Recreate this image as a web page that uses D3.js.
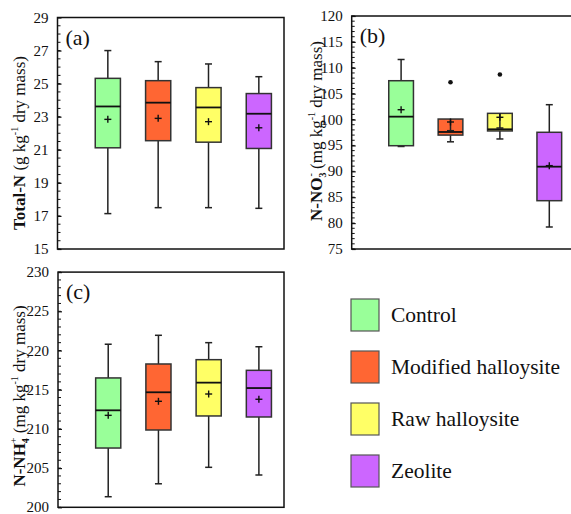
<!DOCTYPE html>
<html><head><meta charset="utf-8">
<script src="https://cdn.jsdelivr.net/npm/d3@7"></script>
<style>
html,body{margin:0;padding:0;background:#fff;}
svg{display:block;}
text{font-family:"Times New Roman","Liberation Serif",serif;}
</style></head>
<body>
<svg id="chart" width="571" height="514"></svg>
<script>
// ---------- data ----------
const categories = ["Control", "Modified halloysite", "Raw halloysite", "Zeolite"];
const fillColors = ["#99ff99", "#ff6633", "#ffff66", "#cc66ff"];

// (a) Total-N (g kg-1 dry mass)
const totalN_low    = [17.14, 17.50, 17.50, 17.46];
const totalN_q1     = [21.12, 21.55, 21.46, 21.08];
const totalN_median = [23.62, 23.85, 23.56, 23.18];
const totalN_q3     = [25.32, 25.18, 24.76, 24.40];
const totalN_high   = [27.00, 26.33, 26.19, 25.42];
const totalN_mean   = [22.84, 22.90, 22.70, 22.33];
const totalN_ticks  = [15, 17, 19, 21, 23, 25, 27, 29];

// (b) N-NO3- (mg kg-1 dry mass)
const no3_low    = [94.8, 95.7, 96.25, 79.25];
const no3_q1     = [94.95, 97.0, 97.8, 84.33];
const no3_median = [100.56, 97.6, 98.12, 90.9];
const no3_q3     = [107.5, 100.1, 101.2, 97.54];
const no3_high   = [111.6, 97.85, 98.37, 102.87];
const no3_mean   = [101.9, 99.53, 100.44, 91.1];
const no3_outlierCat   = ["Modified halloysite", "Raw halloysite"];
const no3_outlierValue = [107.2, 108.7];
const no3_ticks  = [75, 80, 85, 90, 95, 100, 105, 110, 115, 120];

// (c) N-NH4+ (mg kg-1 dry mass)
const nh4_low    = [201.35, 203.0, 205.1, 204.12];
const nh4_q1     = [207.56, 209.86, 211.65, 211.52];
const nh4_median = [212.37, 214.67, 215.9, 215.21];
const nh4_q3     = [216.5, 218.28, 218.83, 217.47];
const nh4_high   = [220.8, 221.94, 221.0, 220.48];
const nh4_mean   = [211.73, 213.52, 214.45, 213.78];
const nh4_ticks  = [200, 205, 210, 215, 220, 225, 230];

// ---------- drawing ----------
const FONT = '"Times New Roman", "Liberation Serif", serif';
const svg = d3.select("#chart");

function drawPanel(p) {
  const g = svg.append("g");
  const x = d3.scaleLinear().domain([0, 4.5]).range([p.left, p.right]);
  const y = d3.scaleLinear().domain([p.ticks[0], p.ticks[p.ticks.length - 1]]).range([p.bottom, p.top]);
  const catPos = c => x(categories.indexOf(c) + 1);
  const bw = x(0.5) - x(0);
  const capW = 7;

  g.append("rect").attr("x", p.left).attr("y", p.top)
    .attr("width", p.right - p.left).attr("height", p.bottom - p.top)
    .attr("fill", "none").attr("stroke", "#111").attr("stroke-width", 1.5);

  const [d0, d1] = y.domain();
  const minor = d3.range(d0, d1 + 1e-9, p.minorStep);
  g.selectAll(".minor").data(minor).join("line")
    .attr("x1", p.left).attr("x2", p.left + 3)
    .attr("y1", d => y(d)).attr("y2", d => y(d))
    .attr("stroke", "#111").attr("stroke-width", 1);

  const axis = d3.axisLeft(y).tickValues(p.ticks).tickSizeInner(4).tickSizeOuter(0).tickPadding(5);
  const ag = g.append("g").attr("transform", `translate(${p.left},0)`).call(axis);
  ag.attr("font-family", FONT).attr("font-size", 15);
  ag.select(".domain").remove();
  ag.selectAll(".tick line").attr("x2", 4).attr("stroke", "#111").attr("stroke-width", 1.2);
  ag.selectAll(".tick text").attr("font-size", 15).attr("fill", "#111")
    .style("font-family", FONT).attr("dy", "0.3em");

  const idx = d3.range(categories.length);
  const lines = g.append("g").attr("stroke", "#222").attr("stroke-width", 1.5);
  idx.forEach(i => {
    const cx = x(i + 1);
    lines.append("line").attr("x1", cx).attr("x2", cx).attr("y1", y(p.q3[i])).attr("y2", y(p.high[i]));
    lines.append("line").attr("x1", cx - capW / 2).attr("x2", cx + capW / 2).attr("y1", y(p.high[i])).attr("y2", y(p.high[i]));
    lines.append("line").attr("x1", cx).attr("x2", cx).attr("y1", y(p.q1[i])).attr("y2", y(p.low[i]));
    lines.append("line").attr("x1", cx - capW / 2).attr("x2", cx + capW / 2).attr("y1", y(p.low[i])).attr("y2", y(p.low[i]));
  });
  g.selectAll(".box").data(idx).join("rect")
    .attr("x", i => x(i + 1) - bw / 2).attr("width", bw)
    .attr("y", i => y(p.q3[i])).attr("height", i => y(p.q1[i]) - y(p.q3[i]))
    .attr("fill", i => fillColors[i]).attr("stroke", "#333").attr("stroke-width", 1.5);
  idx.forEach(i => {
    if (p.high[i] < p.q3[i]) {
      const cx = x(i + 1);
      g.append("line").attr("x1", cx).attr("x2", cx).attr("y1", y(p.q3[i])).attr("y2", y(p.high[i]))
        .attr("stroke", "#222").attr("stroke-width", 1.5);
      g.append("line").attr("x1", cx - capW / 2).attr("x2", cx + capW / 2).attr("y1", y(p.high[i])).attr("y2", y(p.high[i]))
        .attr("stroke", "#222").attr("stroke-width", 1.5);
    }
  });
  g.selectAll(".med").data(idx).join("line")
    .attr("x1", i => x(i + 1) - bw / 2).attr("x2", i => x(i + 1) + bw / 2)
    .attr("y1", i => y(p.median[i])).attr("y2", i => y(p.median[i]))
    .attr("stroke", "#111").attr("stroke-width", 1.8);
  const ms = 3.5;
  idx.forEach(i => {
    const cx = x(i + 1), cy = y(p.mean[i]);
    g.append("line").attr("x1", cx - ms).attr("x2", cx + ms).attr("y1", cy).attr("y2", cy).attr("stroke", "#111").attr("stroke-width", 1.4);
    g.append("line").attr("x1", cx).attr("x2", cx).attr("y1", cy - ms).attr("y2", cy + ms).attr("stroke", "#111").attr("stroke-width", 1.4);
  });
  if (p.outCat) {
    g.selectAll(".out").data(p.outCat.map((c, k) => [c, p.outVal[k]])).join("circle")
      .attr("cx", d => catPos(d[0])).attr("cy", d => y(d[1])).attr("r", 2.3).attr("fill", "#111");
  }
  g.append("text").attr("x", p.left + 8).attr("y", p.top + 27).attr("font-size", 22)
    .style("font-family", FONT).attr("fill", "#111").text(p.label);

  const t = g.append("text").attr("transform", `translate(${p.titleX},${p.titleY}) rotate(-90)`)
    .attr("text-anchor", "middle").attr("font-size", 17).style("font-family", FONT).attr("fill", "#111");
  p.title(t);
}

drawPanel({
  left: 57.5, right: 284, top: 17.5, bottom: 249,
  ticks: totalN_ticks, minorStep: 0.5,
  low: totalN_low, q1: totalN_q1, median: totalN_median, q3: totalN_q3, high: totalN_high, mean: totalN_mean,
  label: "(a)", titleX: 25, titleY: 143,
  title: t => {
    t.append("tspan").attr("font-weight", "bold").text("Total-N");
    t.append("tspan").text(" (g kg");
    t.append("tspan").attr("font-size", 10).attr("dy", -7).text("-1");
    t.append("tspan").attr("dy", 7).text(" dry mass)");
  }
});

drawPanel({
  left: 351.7, right: 574, top: 16, bottom: 249,
  ticks: no3_ticks, minorStep: 1,
  low: no3_low, q1: no3_q1, median: no3_median, q3: no3_q3, high: no3_high, mean: no3_mean,
  outCat: no3_outlierCat, outVal: no3_outlierValue,
  label: "(b)", titleX: 322, titleY: 131,
  title: t => {
    t.append("tspan").attr("font-weight", "bold").text("N-NO");
    t.append("tspan").attr("font-weight", "bold").attr("font-size", 10).attr("dy", 4).text("3");
    t.append("tspan").attr("font-size", 10).attr("dy", -12).attr("dx", -4).text("-");
    t.append("tspan").attr("dy", 8).text(" (mg kg");
    t.append("tspan").attr("font-size", 10).attr("dy", -7).text("-1");
    t.append("tspan").attr("dy", 7).text(" dry mass)");
  }
});

drawPanel({
  left: 58, right: 284, top: 272.1, bottom: 507.3,
  ticks: nh4_ticks, minorStep: 1,
  low: nh4_low, q1: nh4_q1, median: nh4_median, q3: nh4_q3, high: nh4_high, mean: nh4_mean,
  label: "(c)", titleX: 25, titleY: 396,
  title: t => {
    t.append("tspan").attr("font-weight", "bold").text("N-NH");
    t.append("tspan").attr("font-weight", "bold").attr("font-size", 10).attr("dy", 4).text("4");
    t.append("tspan").attr("font-size", 10).attr("dy", -12).attr("dx", -5).text("+");
    t.append("tspan").attr("dy", 8).text(" (mg kg");
    t.append("tspan").attr("font-size", 10).attr("dy", -7).text("-1");
    t.append("tspan").attr("dy", 7).text(" dry mass)");
  }
});

const legY = d3.scaleBand().domain(categories).range([299, 507]).paddingInner(0);
const leg = svg.append("g");
categories.forEach((c, i) => {
  const y0 = legY(c);
  leg.append("rect").attr("x", 351).attr("y", y0).attr("width", 28).attr("height", 32)
    .attr("fill", fillColors[i]).attr("stroke", "#555").attr("stroke-width", 1.2);
  leg.append("text").attr("x", 391).attr("y", y0 + 23).attr("font-size", 21.5)
    .style("font-family", FONT).attr("fill", "#111").text(c);
});
</script>
</body></html>
